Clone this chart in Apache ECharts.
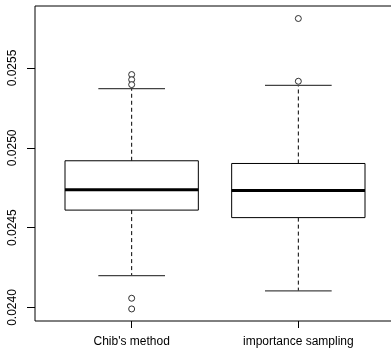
<!DOCTYPE html>
<html>
<head>
<meta charset="utf-8">
<script src="https://cdn.jsdelivr.net/npm/echarts@6/dist/echarts.min.js"></script>
<style>
  html, body { margin: 0; padding: 0; background: #fff; }
  #chart { width: 391px; height: 351px; }
</style>
</head>
<body>
<div id="chart"></div>
<script>
// Methods compared
const categories = ["Chib's method", "importance sampling"];
// Five-number summaries per method: [lower whisker, Q1, median, Q3, upper whisker]
const chibStats = [0.024200, 0.024610, 0.024737, 0.024919, 0.025371];
const impStats  = [0.024104, 0.024563, 0.024733, 0.024902, 0.025391];
// Outlying estimates
const chibOutliers = [0.025459, 0.025427, 0.025396, 0.024058, 0.023991];
const impOutliers  = [0.025810, 0.025417];
// Y-axis tick values
const yTicks = [0.0240, 0.0245, 0.0250, 0.0255];
const xPositions = [1, 2];

const FONT = 'Liberation Sans, Arial, Helvetica, sans-serif';

const boxData = [
  [xPositions[0]].concat(chibStats),
  [xPositions[1]].concat(impStats)
];
const outlierData = []
  .concat(chibOutliers.map(v => [xPositions[0], v]))
  .concat(impOutliers.map(v => [xPositions[1], v]));

function renderBox(params, api) {
  const x = api.value(0);
  const lo = api.coord([x, api.value(1)]);
  const q1 = api.coord([x, api.value(2)]);
  const med = api.coord([x, api.value(3)]);
  const q3 = api.coord([x, api.value(4)]);
  const hi = api.coord([x, api.value(5)]);
  const boxW = api.size([0.8, 0])[0];
  const capW = boxW / 2;
  const cx = q1[0];
  const black = '#000';
  return {
    type: 'group',
    children: [
      { type: 'line', shape: { x1: cx, y1: q3[1], x2: cx, y2: hi[1] },
        style: { stroke: black, lineWidth: 1, lineDash: [4, 3] } },
      { type: 'line', shape: { x1: cx, y1: q1[1], x2: cx, y2: lo[1] },
        style: { stroke: black, lineWidth: 1, lineDash: [4, 3] } },
      { type: 'line', shape: { x1: cx - capW / 2, y1: hi[1], x2: cx + capW / 2, y2: hi[1] },
        style: { stroke: '#444', lineWidth: 1.2 } },
      { type: 'line', shape: { x1: cx - capW / 2, y1: lo[1], x2: cx + capW / 2, y2: lo[1] },
        style: { stroke: '#444', lineWidth: 1.2 } },
      { type: 'rect', shape: { x: cx - boxW / 2, y: q3[1], width: boxW, height: q1[1] - q3[1] },
        style: { fill: '#fff', stroke: black, lineWidth: 1 } },
      { type: 'line', shape: { x1: cx - boxW / 2, y1: med[1], x2: cx + boxW / 2, y2: med[1] },
        style: { stroke: black, lineWidth: 3 } }
    ]
  };
}

const chart = echarts.init(document.getElementById('chart'), null, { renderer: 'canvas' });
chart.setOption({
  animation: false,
  backgroundColor: '#fff',
  grid: {
    left: 35, top: 6, width: 360, height: 315,
    outerBoundsMode: 'none', containLabel: false,
    show: true, borderColor: '#000', borderWidth: 1, backgroundColor: 'transparent'
  },
  xAxis: {
    type: 'value', min: 0.42, max: 2.58,
    axisLine: { show: false },
    splitLine: { show: false },
    axisTick: { show: true, customValues: xPositions, length: 7, lineStyle: { color: '#000' } },
    axisLabel: {
      customValues: xPositions, margin: 15,
      formatter: v => categories[Math.round(v) - 1],
      fontFamily: FONT, fontSize: 12, color: '#000'
    }
  },
  yAxis: {
    type: 'value', min: 0.0239155, max: 0.0258883,
    axisLine: { show: false },
    splitLine: { show: false },
    axisTick: { show: true, customValues: yTicks, length: 8, lineStyle: { color: '#000' } },
    axisLabel: {
      customValues: yTicks, rotate: 90, margin: 16,
      formatter: v => v.toFixed(4),
      fontFamily: FONT, fontSize: 12, color: '#000'
    }
  },
  series: [
    {
      type: 'custom',
      renderItem: renderBox,
      data: boxData,
      encode: { x: 0, y: [1, 2, 3, 4, 5] },
      z: 2
    },
    {
      type: 'scatter',
      data: outlierData,
      symbol: 'circle',
      symbolSize: 6,
      itemStyle: { color: '#fff', borderColor: '#000', borderWidth: 1 },
      z: 3
    }
  ]
});
</script>
</body>
</html>
